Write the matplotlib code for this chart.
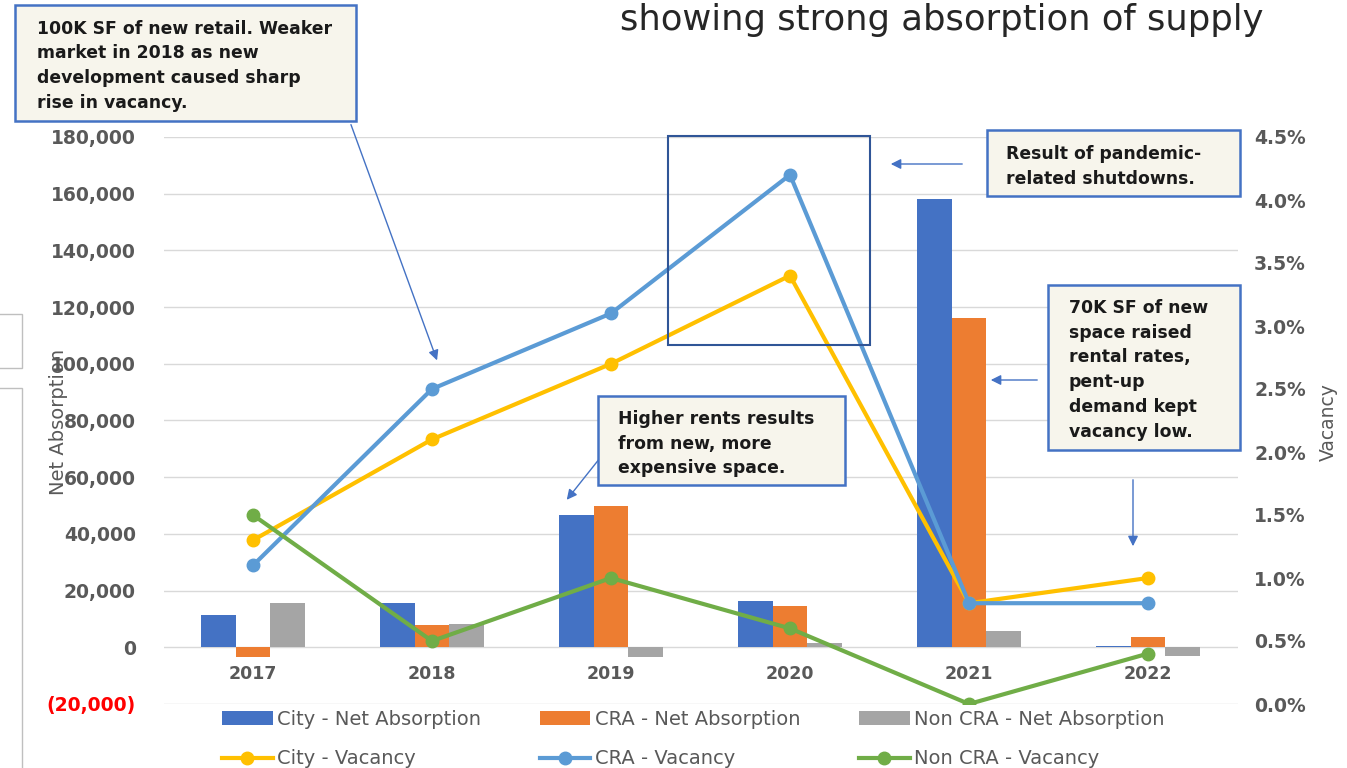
import numpy as np
import matplotlib.pyplot as plt
from matplotlib.patches import Rectangle, FancyArrowPatch
from matplotlib.ticker import FuncFormatter

# Données
years = ['2017', '2018', '2019', '2020', '2021', '2022']
city_abs = [11300, 15800, 46500, 16500, 158000, 500]
cra_abs = [-3500, 7700, 50000, 14400, 116000, 3800]
noncra_abs = [15500, 8100, -3500, 1500, 5600, -3000]

city_vac = [0.013, 0.021, 0.027, 0.034, 0.008, 0.010]
cra_vac = [0.011, 0.025, 0.031, 0.042, 0.008, 0.008]
noncra_vac = [0.015, 0.005, 0.010, 0.006, 0.000, 0.004]

W, H = 1347, 768
fig = plt.figure(figsize=(W / 100, H / 100), dpi=100)
ax = fig.add_axes([163.5 / W, 1 - 704 / H, 1074 / W, 567 / H])
ax2 = ax.twinx()

def px(x, y):
    return (x / W, 1 - y / H)

x = np.arange(len(years))
bw = 0.195
ax.bar(x - bw, city_abs, bw, color='#4472c4', label='City - Net Absorption')
ax.bar(x, cra_abs, bw, color='#ed7d31', label='CRA - Net Absorption')
ax.bar(x + bw, noncra_abs, bw, color='#a5a5a5', label='Non CRA - Net Absorption')

ax.set_ylim(-20000, 180000)
ax.set_xlim(-0.5, len(years) - 0.5)
ax.set_yticks(np.arange(-20000, 180001, 20000))
ax.yaxis.set_major_formatter(FuncFormatter(
    lambda v, p: '({:,.0f})'.format(-v) if v < 0 else '{:,.0f}'.format(v)))
ax.grid(axis='y', color='#d9d9d9', lw=1)
ax.set_axisbelow(True)
for s in ['top', 'left', 'right']:
    ax.spines[s].set_visible(False)
ax.spines['bottom'].set_position(('data', 0))
ax.spines['bottom'].set_color('none')
ax.set_xticks(x)
ax.set_xticklabels(years)
ax.tick_params(axis='x', length=0, pad=13, labelsize=12.5, labelcolor='#595959')
ax.tick_params(axis='y', length=0, pad=20, labelsize=13.5, labelcolor='#595959')
for t in ax.get_xticklabels() + ax.get_yticklabels():
    t.set_fontweight('bold')
ax.get_yticklabels()[0].set_color('red')

ax2.plot(x, city_vac, color='#ffc000', lw=3, marker='o', ms=9, label='City - Vacancy')
ax2.plot(x, cra_vac, color='#5b9bd5', lw=3, marker='o', ms=9, label='CRA - Vacancy')
ax2.plot(x, noncra_vac, color='#70ad47', lw=3, marker='o', ms=9, label='Non CRA - Vacancy')
ax2.set_ylim(0, 0.045)
ax2.set_yticks(np.arange(0, 0.0451, 0.005))
ax2.yaxis.set_major_formatter(FuncFormatter(lambda v, p: '{:.1%}'.format(v)))
ax2.tick_params(axis='y', length=0, pad=12, labelsize=13.5, labelcolor='#595959')
for t in ax2.get_yticklabels():
    t.set_fontweight('bold')
for s in ax2.spines.values():
    s.set_visible(False)

fig.text(*px(58, 422), 'Net Absorption', rotation=90, ha='center', va='center',
         fontsize=14, color='#595959')
fig.text(*px(1328, 422), 'Vacancy', rotation=90, ha='center', va='center',
         fontsize=13.5, color='#595959')

# Légende
h1, l1 = ax.get_legend_handles_labels()
h2, l2 = ax2.get_legend_handles_labels()
handles = [h1[0], h2[0], h1[1], h2[1], h1[2], h2[2]]
labels = [l1[0], l2[0], l1[1], l2[1], l1[2], l2[2]]
fig.legend(handles, labels, ncol=3, loc='upper left', bbox_to_anchor=px(222, 710),
           frameon=False, fontsize=14, handlelength=2.6, handletextpad=0.25,
           columnspacing=3.0, labelspacing=1.05, borderpad=0, borderaxespad=0,
           labelcolor='#595959')

# Titre (partiel)
fig.text(*px(620, 20), 'showing strong absorption of supply', ha='left', va='center',
         fontsize=25.5, color='#262626')

# Encadrés
def box(x0, y0, x1, y1, txt, tx, ty):
    fig.patches.append(Rectangle(px(x0, y1), (x1 - x0) / W, (y1 - y0) / H,
                                 transform=fig.transFigure, facecolor='#f7f5ec',
                                 edgecolor='#4472c4', lw=1.8, zorder=5))
    fig.text(*px(tx, ty), txt, ha='left', va='top', fontsize=12.4, fontweight='bold',
             color='#1a1a1a', linespacing=1.48, zorder=6)

box(15, 5, 356, 121, '100K SF of new retail. Weaker\nmarket in 2018 as new\n'
    'development caused sharp\nrise in vacancy.', 37, 19.5)
box(987, 130, 1240, 196, 'Result of pandemic-\nrelated shutdowns.', 1006, 145)
box(1048, 285, 1240, 450, '70K SF of new\nspace raised\nrental rates,\npent-up\n'
    'demand kept\nvacancy low.', 1069, 299)
box(598, 396, 845, 485, 'Higher rents results\nfrom new, more\nexpensive space.', 618, 410)

fig.patches.append(Rectangle(px(668, 345), 202 / W, 209 / H, transform=fig.transFigure,
                             facecolor='none', edgecolor='#2f5597', lw=1.5, zorder=5))

# Flèches
def arrow(x0, y0, x1, y1):
    fig.patches.append(FancyArrowPatch(px(x0, y0), px(x1, y1), transform=fig.transFigure,
                                       arrowstyle='-|>,head_length=6,head_width=3',
                                       color='#4472c4', lw=1, zorder=6))

arrow(350, 122, 438, 363)
arrow(965, 164, 888, 164)
arrow(1040, 380, 988, 380)
arrow(1133, 477, 1133, 549)
arrow(600, 458, 565, 502)

# Bords gauches (restes de la capture)
fig.patches.append(Rectangle(px(-2, 368), 24 / W, 54 / H, transform=fig.transFigure,
                             facecolor='white', edgecolor='#bfbfbf', lw=1))
fig.patches.append(Rectangle(px(-2, 775), 24 / W, 387 / H, transform=fig.transFigure,
                             facecolor='white', edgecolor='#bfbfbf', lw=1))

fig.savefig('out.png', dpi=100)
